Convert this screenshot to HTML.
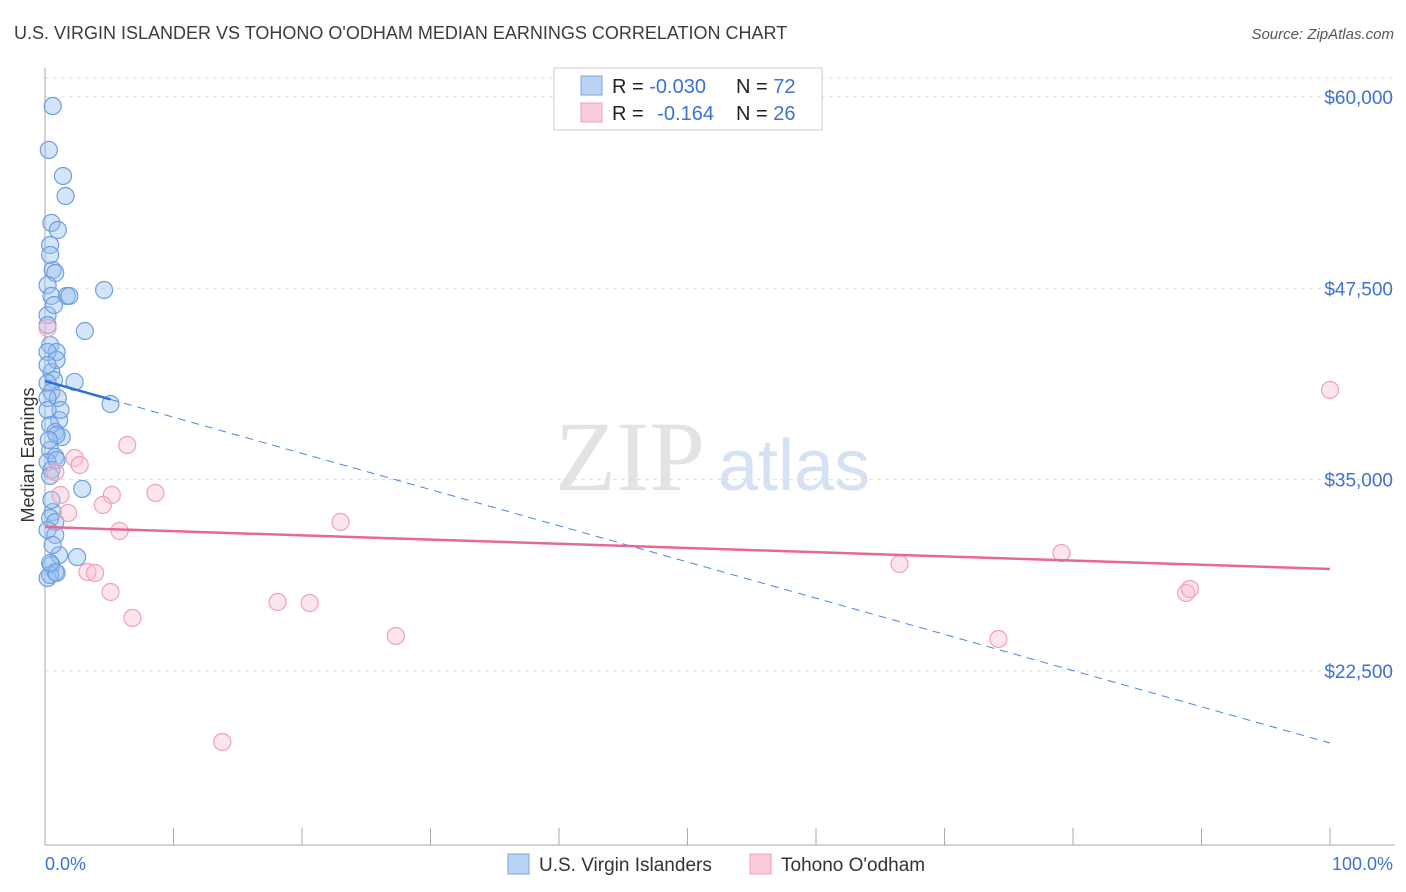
<!DOCTYPE html>
<html><head><meta charset="utf-8"><style>
body{margin:0;background:#fff;font-family:"Liberation Sans",sans-serif}
svg{display:block}
</style></head><body>
<svg id="c" width="1406" height="892" xmlns="http://www.w3.org/2000/svg">
<text x="14" y="39" font-size="18" fill="#3c3c3c">U.S. VIRGIN ISLANDER VS TOHONO O'ODHAM MEDIAN EARNINGS CORRELATION CHART</text>
<text x="1394" y="39" font-size="15" fill="#555" font-style="italic" text-anchor="end">Source: ZipAtlas.com</text>
<text x="555" y="490" font-size="100" fill="#e3e3e3" font-family="Liberation Serif,serif">ZIP</text>
<text x="718" y="490" font-size="72" fill="#d4e2f4">atlas</text>
<text x="34" y="455" font-size="18" fill="#333" text-anchor="middle" transform="rotate(-90 34 455)">Median Earnings</text>
<g id="grid"></g><g id="pts"></g><g id="lines"></g>
<g>
<rect x="554" y="68" width="268" height="62" fill="#fff" stroke="#ccc"/>
<rect x="581" y="76" width="21" height="19" fill="#b9d3f5" stroke="#7aa6e0"/>
<rect x="581" y="103" width="21" height="19" fill="#fbcbd9" stroke="#f0a0b8"/>
<text x="612" y="93" font-size="20" fill="#222">R = <tspan fill="#3b72d4">-0.030</tspan></text>
<text x="736" y="93" font-size="20" fill="#222">N = <tspan fill="#3b72d4">72</tspan></text>
<text x="612" y="120" font-size="20" fill="#222">R = <tspan fill="#3b72d4" dx="8">-0.164</tspan></text>
<text x="736" y="120" font-size="20" fill="#222">N = <tspan fill="#3b72d4">26</tspan></text>
</g>
<g>
<rect x="508" y="854" width="21" height="20" fill="#b9d3f5" stroke="#7aa6e0"/>
<text x="539" y="871" font-size="19" fill="#333">U.S. Virgin Islanders</text>
<rect x="750" y="854" width="21" height="20" fill="#fbcbd9" stroke="#f0a0b8"/>
<text x="781" y="871" font-size="19" fill="#333">Tohono O'odham</text>
</g>
<text x="45" y="870" font-size="18" fill="#3b72d4">0.0%</text>
<text x="1393" y="870" font-size="18" fill="#3b72d4" text-anchor="end">100.0%</text>
</svg>
<script>
const yTicks=[60000,47500,35000,22500];
const yTickLabels=["$60,000","$47,500","$35,000","$22,500"];
const blueX=[0.6,0.3,1.4,1.6,0.5,1.0,0.4,0.6,0.8,0.2,0.5,1.7,1.9,4.6,0.2,0.2,3.1,0.4,0.9,0.2,0.5,0.7,2.3,0.2,0.5,1.0,5.1,0.2,1.1,0.4,0.8,1.3,0.9,0.4,0.8,0.2,0.9,0.5,0.4,2.9,0.6,0.4,0.8,0.2,0.8,1.1,2.5,0.5,0.8,0.2,0.4,0.9,0.4,0.6,1.2,0.2,0.3,0.5,0.9,0.2,0.7,0.4];
const blueY=[59410,56540,54840,53530,51770,51310,50330,48700,48500,47710,47000,47000,47000,47390,45750,45100,44710,43790,43340,43340,42030,41510,41380,41310,40720,40330,39940,40330,38890,38570,38110,37780,37920,36930,36480,36150,36280,35630,35240,34390,32880,32490,32230,31710,31380,30070,29940,29420,28960,28570,28770,28900,29550,30730,39550,39550,37590,33670,42820,42490,46410,49680];
const pinkX=[0.2,2.3,2.7,0.8,1.2,1.8,5.2,4.5,6.4,8.6,5.8,3.3,3.9,5.1,6.8,18.1,20.6,23.0,27.3,13.8,66.5,79.1,74.2,88.8,89.1,100];
const pinkY=[44906,36412,35955,35497,33995,32819,33995,33341,37262,34125,31642,28963,28898,27657,25958,27003,26938,32230,24782,17856,29486,30205,24586,27591,27853,40855];
const blueTrend=[41444,17790];
const pinkTrend=[31904,29160];
const NS="http://www.w3.org/2000/svg";
const X0=45,X1=1330,Y0=97,Ypx=191.3/12500;
const sx=v=>X0+(X1-X0)*v/100, sy=v=>Y0+(60000-v)*Ypx;
function mk(t,a,p){const e=document.createElementNS(NS,t);for(const k in a)e.setAttribute(k,a[k]);p.appendChild(e);return e;}
const grid=document.getElementById('grid');
mk('line',{x1:45,x2:1395,y1:78,y2:78,stroke:'#ddd','stroke-dasharray':'4,4'},grid);
yTicks.forEach((t,i)=>{
 const l=mk('line',{x1:45,x2:1395,y1:sy(t),y2:sy(t),stroke:'#ddd','stroke-dasharray':'4,4'},grid);
 
 
 const tx=mk('text',{x:1393,y:sy(t)+7,'font-size':19,fill:'#3b72d4','text-anchor':'end'},grid);
 tx.textContent=yTickLabels[i];
 
 
});
mk('line',{x1:45,x2:45,y1:68,y2:845,stroke:'#aaa'},grid);
mk('line',{x1:45,x2:1395,y1:845,y2:845,stroke:'#aaa'},grid);
for(let i=0;i<=10;i++){const x=sx(i*10);const t=mk('line',{x1:x,x2:x,y1:828,y2:845,stroke:'#aaa'},grid);
 
 }
const pts=document.getElementById('pts');
blueX.forEach((x,i)=>{const c=mk('circle',{cx:sx(x),cy:sy(blueY[i]),r:8.5,fill:'rgba(150,190,240,0.4)',stroke:'#6d9fe0','stroke-width':1.2},pts);
 
 });
pinkX.forEach((x,i)=>{const c=mk('circle',{cx:sx(x),cy:sy(pinkY[i]),r:8.5,fill:'rgba(250,190,210,0.4)',stroke:'#f0a0b8','stroke-width':1.2},pts);
 
 });
const L=document.getElementById('lines');
const bAt=p=>blueTrend[0]+(blueTrend[1]-blueTrend[0])*p/100;
let e=mk('line',{x1:sx(0),y1:sy(bAt(0)),x2:sx(5.1),y2:sy(bAt(5.1)),stroke:'#2a6fd6','stroke-width':2.5},L);


e=mk('line',{x1:sx(5.1),y1:sy(bAt(5.1)),x2:sx(100),y2:sy(bAt(100)),stroke:'#4a86dc','stroke-width':1,'stroke-dasharray':'8,6'},L);


e=mk('line',{x1:sx(0),y1:sy(pinkTrend[0]),x2:sx(100),y2:sy(pinkTrend[1]),stroke:'#e8688f','stroke-width':2.5},L);


</script>
</body></html>
